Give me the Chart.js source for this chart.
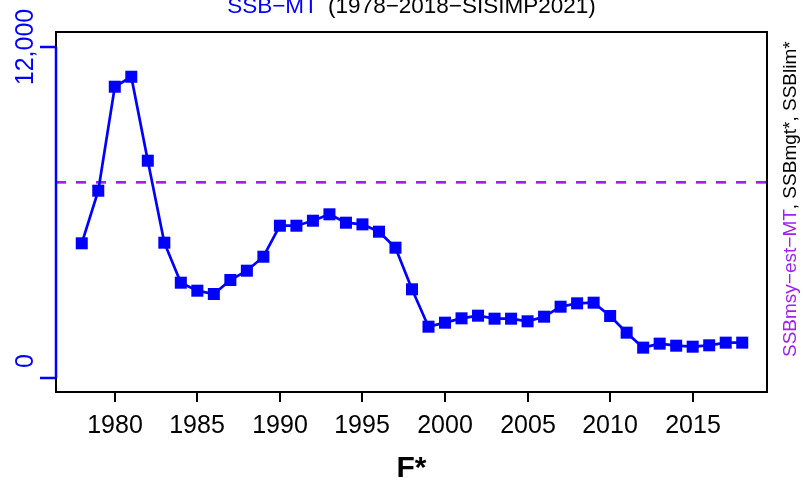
<!DOCTYPE html>
<html>
<head>
<meta charset="utf-8">
<script src="https://cdn.jsdelivr.net/npm/chart.js@4.4.1/dist/chart.umd.min.js"></script>
<style>
  html, body { margin: 0; padding: 0; background: #ffffff; }
  canvas { display: block; }
</style>
</head>
<body>
<canvas id="ssbChart" width="803" height="489"></canvas>
<script>
// =====================
//  DATA
// =====================
const YEARS = [1978, 1979, 1980, 1981, 1982, 1983, 1984, 1985, 1986, 1987,
               1988, 1989, 1990, 1991, 1992, 1993, 1994, 1995, 1996, 1997,
               1998, 1999, 2000, 2001, 2002, 2003, 2004, 2005, 2006, 2007,
               2008, 2009, 2010, 2011, 2012, 2013, 2014, 2015, 2016, 2017, 2018];
const SSB = [4883, 6790, 10560, 10922, 7878, 4905, 3455, 3165, 3045, 3553,
             3890, 4397, 5521, 5521, 5702, 5934, 5630, 5570, 5304, 4724,
             3215, 1860, 2005, 2163, 2259, 2150, 2150, 2055, 2222, 2585,
             2707, 2730, 2247, 1643, 1100, 1245, 1171, 1135, 1185, 1281, 1281];
const SSB_MSY = 7094;

const X_TICKS = [1980, 1985, 1990, 1995, 2000, 2005, 2010, 2015];
const Y_TICKS = [0, 12000];
const Y_TICK_LABELS = ["0", "12,000"];

const X_RANGE = [1976.44, 2019.5];
const Y_RANGE = [-508, 12544];

const FONT = "'Liberation Sans', Arial, Helvetica, sans-serif";
const BLUE = "#0000ff";
const PURPLE = "#a020f0";


// =====================
//  DECORATIONS (box, axes, titles)
// =====================
const decorPlugin = {
    id: "decor",
    afterDraw(chart) {
        const ctx = chart.ctx;
        const area = chart.chartArea;
        const xs = chart.scales.x;
        const ys = chart.scales.y;

        ctx.save();

        // plot box
        ctx.strokeStyle = "#000000";
        ctx.lineWidth = 2;
        ctx.strokeRect(area.left, area.top, area.right - area.left, area.bottom - area.top);

        // x axis ticks + labels
        ctx.lineWidth = 2;
        ctx.font = "25px " + FONT;
        ctx.fillStyle = "#000000";
        ctx.textAlign = "center";
        ctx.textBaseline = "alphabetic";
        X_TICKS.forEach((t) => {
            const px = Math.round(xs.getPixelForValue(t));
            ctx.beginPath();
            ctx.moveTo(px, area.bottom);
            ctx.lineTo(px, area.bottom + 10);
            ctx.stroke();
            ctx.fillText(String(t), px, area.bottom + 41);
        });

        // y axis (blue) line + ticks
        const yTop = ys.getPixelForValue(Y_TICKS[Y_TICKS.length - 1]);
        const yBot = ys.getPixelForValue(Y_TICKS[0]);
        ctx.strokeStyle = BLUE;
        ctx.lineWidth = 2.5;
        ctx.beginPath();
        ctx.moveTo(area.left, yTop);
        ctx.lineTo(area.left, yBot);
        ctx.stroke();
        ctx.fillStyle = BLUE;
        ctx.font = "25px " + FONT;
        Y_TICKS.forEach((t, i) => {
            const py = ys.getPixelForValue(t);
            ctx.beginPath();
            ctx.moveTo(area.left - 16, py);
            ctx.lineTo(area.left, py);
            ctx.stroke();
            // bottom label sits a little above its tick, as in the original
            const shift = i === 0 ? -17 : 0;
            ctx.save();
            ctx.translate(33, py + shift);
            ctx.rotate(-Math.PI / 2);
            ctx.textAlign = "center";
            ctx.fillText(Y_TICK_LABELS[i], 0, 0);
            ctx.restore();
        });

        // title
        ctx.font = "22.5px " + FONT;
        ctx.textAlign = "left";
        const t1 = "SSB\u2212MT";
        const t2 = " (1978\u22122018\u2212SISIMP2021)";
        const gap = 4;
        const w1 = ctx.measureText(t1).width;
        const w2 = ctx.measureText(t2).width;
        const cx = (area.left + area.right) / 2;
        let tx = cx - (w1 + gap + w2) / 2;
        ctx.fillStyle = BLUE;
        ctx.fillText(t1, tx, 13);
        ctx.fillStyle = "#000000";
        ctx.fillText(t2, tx + w1 + gap, 13);

        // x axis title
        ctx.font = "bold 30px " + FONT;
        ctx.textAlign = "center";
        ctx.fillText("F*", cx, 477);

        // right side label
        ctx.font = "19px " + FONT;
        ctx.save();
        ctx.translate(796, 357);
        ctx.rotate(-Math.PI / 2);
        ctx.textAlign = "left";
        const r1 = "SSBmsy\u2212est\u2212MT";
        const r2 = ", SSBmgt*, SSBlim*";
        ctx.fillStyle = PURPLE;
        ctx.fillText(r1, 0, 0);
        ctx.fillStyle = "#000000";
        ctx.fillText(r2, ctx.measureText(r1).width, 0);
        ctx.restore();

        ctx.restore();
    }
};


// =====================
//  CHART
// =====================
const ctx = document.getElementById("ssbChart").getContext("2d");

const ssbPoints = YEARS.map((y, i) => ({ x: y, y: SSB[i] }));
const msyLine = [{ x: X_RANGE[0], y: SSB_MSY }, { x: X_RANGE[1], y: SSB_MSY }];

let ssbChart = new Chart(ctx, {
    type: "scatter",
    data: {
        datasets: [
            {
                label: "SSB-MT",
                data: ssbPoints,
                showLine: true,
                borderColor: BLUE,
                borderWidth: 2.7,
                pointStyle: "rect",
                pointRadius: 8.5,
                pointBackgroundColor: BLUE,
                pointBorderWidth: 0,
                order: 1
            },
            {
                label: "SSBmsy-est-MT",
                data: msyLine,
                showLine: true,
                borderColor: PURPLE,
                borderWidth: 2.7,
                borderDash: [10, 10],
                pointRadius: 0,
                order: 2
            }
        ]
    },
    options: {
        responsive: false,
        animation: false,
        layout: { padding: { left: 56, top: 32, right: 36, bottom: 97 } },
        plugins: {
            legend: { display: false },
            tooltip: { enabled: false }
        },
        scales: {
            x: { type: "linear", display: false, min: X_RANGE[0], max: X_RANGE[1] },
            y: { type: "linear", display: false, min: Y_RANGE[0], max: Y_RANGE[1] }
        }
    },
    plugins: [decorPlugin]
});
</script>
</body>
</html>
